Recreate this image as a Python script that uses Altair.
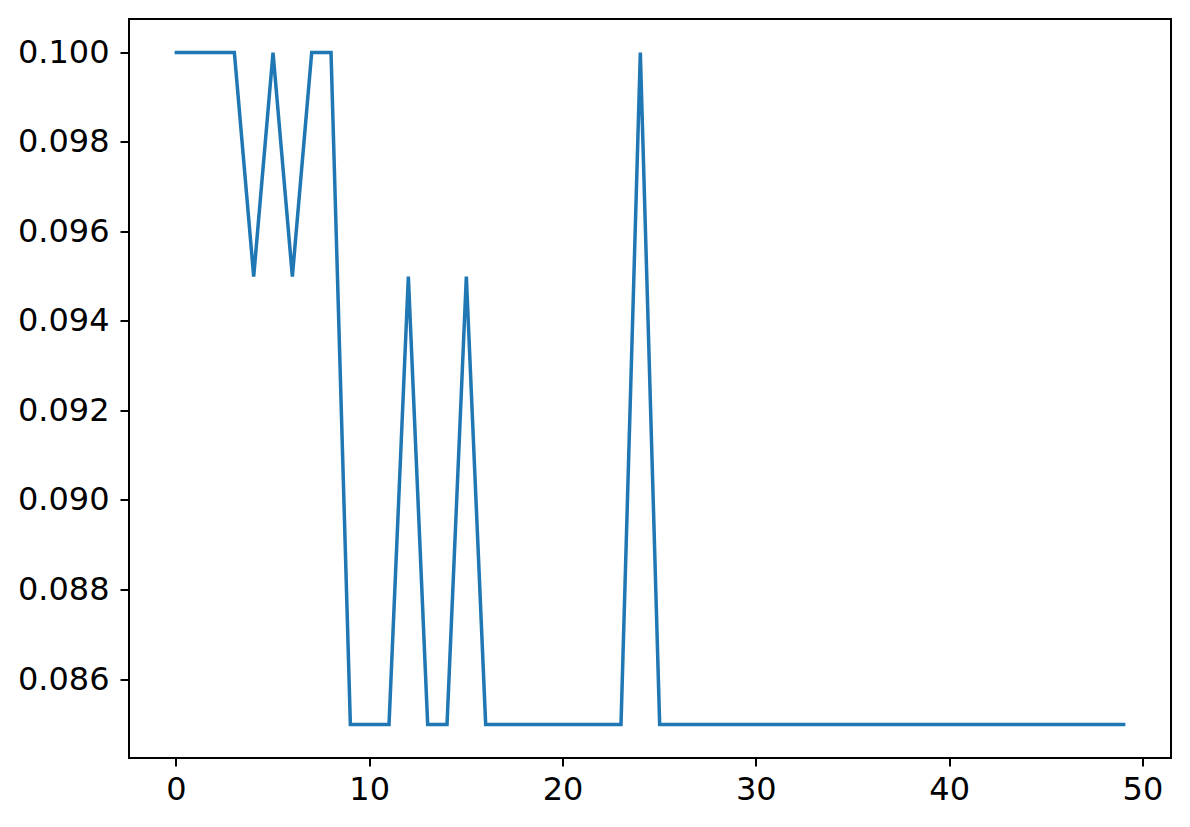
import altair as alt
import pandas as pd

steps = list(range(50))
values = [
    0.100, 0.100, 0.100, 0.100, 0.095, 0.100, 0.095, 0.100, 0.100, 0.085,
    0.085, 0.085, 0.095, 0.085, 0.085, 0.095, 0.085, 0.085, 0.085, 0.085,
    0.085, 0.085, 0.085, 0.085, 0.100, 0.085, 0.085, 0.085, 0.085, 0.085,
    0.085, 0.085, 0.085, 0.085, 0.085, 0.085, 0.085, 0.085, 0.085, 0.085,
    0.085, 0.085, 0.085, 0.085, 0.085, 0.085, 0.085, 0.085, 0.085, 0.085,
]
x_ticks = [0, 10, 20, 30, 40, 50]
y_ticks = [0.086, 0.088, 0.090, 0.092, 0.094, 0.096, 0.098, 0.100]

df = pd.DataFrame({"step": steps, "value": values})

font = "DejaVu Sans"
axis_common = dict(
    grid=False, domain=False, tickColor="black", tickWidth=2, tickSize=8.5,
    labelFont=font, labelFontSize=32, labelColor="black", title=None,
    translate=0,
)

chart = alt.Chart(df).mark_line(
    color="#1f77b4", strokeWidth=3.5, strokeJoin="miter", strokeCap="square"
).encode(
    x=alt.X("step:Q", scale=alt.Scale(domain=[-2.45, 51.45], nice=False, zero=False),
            axis=alt.Axis(values=x_ticks, labelPadding=8, format="d", **axis_common)),
    y=alt.Y("value:Q", scale=alt.Scale(domain=[0.08425, 0.10075], nice=False, zero=False),
            axis=alt.Axis(values=y_ticks, labelPadding=11, format=".3f", **axis_common)),
).properties(
    width=1042, height=739,
    autosize=alt.AutoSizeParams(type="none"),
    padding={"left": 121, "top": 11, "right": 10, "bottom": 60},
).configure(background="white").configure_view(stroke="black", strokeWidth=2)

chart.save("out.html", embed_options={"renderer": "svg", "actions": False})
